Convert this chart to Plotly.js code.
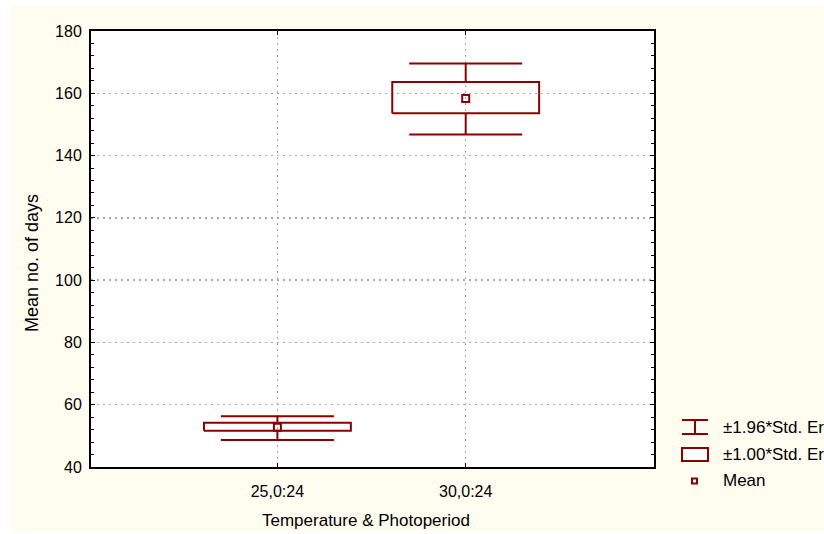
<!DOCTYPE html>
<html>
<head>
<meta charset="utf-8">
<script src="https://cdn.plot.ly/plotly-3.0.1.min.js"></script>
<style>html,body{margin:0;padding:0;background:#fff;overflow:hidden}#chart{width:824px;height:534px}</style>
</head>
<body>
<div id="chart"></div>
<script>
// ---- data ----
const categories = ['25,0:24', '30,0:24'];
const means = [52.8, 158.3];
const seLow = [51.6, 153.6];      // mean - 1.00*SE
const seHigh = [54.2, 163.6];     // mean + 1.00*SE
const ciLow = [48.7, 146.8];      // mean - 1.96*SE
const ciHigh = [56.3, 169.6];     // mean + 1.96*SE
const yTicks = [40, 60, 80, 100, 120, 140, 160, 180];
const legendLabels = ['\u00b11.96*Std. Err.', '\u00b11.00*Std. Err.', 'Mean'];

const RED = '#8B0000';
const FONT = 'Liberation Sans, Arial, sans-serif';
const boxHalf = 0.39, capHalf = 0.30;
const pos = categories.map((c, i) => i);

// whiskers (vertical stems + caps)
const wx = [], wy = [];
pos.forEach((p, i) => {
  wx.push(p, p, null, p, p, null, p - capHalf, p + capHalf, null, p - capHalf, p + capHalf, null);
  wy.push(seHigh[i], ciHigh[i], null, seLow[i], ciLow[i], null, ciHigh[i], ciHigh[i], null, ciLow[i], ciLow[i], null);
});
// boxes
const bx = [], by = [];
pos.forEach((p, i) => {
  bx.push(p - boxHalf, p + boxHalf, p + boxHalf, p - boxHalf, p - boxHalf, null);
  by.push(seLow[i], seLow[i], seHigh[i], seHigh[i], seLow[i], null);
});

const traces = [
  {x: wx, y: wy, mode: 'lines', line: {color: RED, width: 2}, name: legendLabels[0], hoverinfo: 'skip'},
  {x: bx, y: by, mode: 'lines', line: {color: RED, width: 2}, name: legendLabels[1], hoverinfo: 'skip'},
  {x: pos, y: means, mode: 'markers', name: legendLabels[2],
   marker: {symbol: 'square-open', size: 7, color: RED, line: {width: 2, color: RED}}}
];

// pixel helpers for paper coords (plot area 91..654 x, 31..467 y)
const L = 91, R = 654, T = 31, B = 467;
const px = v => (v - L) / (R - L);
const py = v => (B - v) / (B - T);

const shapes = [
  // white strips around the cream panel
  {type: 'rect', xref: 'paper', yref: 'paper', x0: -0.3, x1: 1.5, y0: py(6), y1: 1.3, fillcolor: '#fff', line: {width: 0}, layer: 'below'},
  {type: 'rect', xref: 'paper', yref: 'paper', x0: -0.3, x1: px(11), y0: -0.3, y1: 1.3, fillcolor: '#fff', line: {width: 0}, layer: 'below'},
  {type: 'rect', xref: 'paper', yref: 'paper', x0: -0.3, x1: 1.5, y0: -0.3, y1: py(531), fillcolor: '#fff', line: {width: 0}, layer: 'below'},
  // legend icons
  {type: 'line', xref: 'paper', yref: 'paper', x0: px(682), x1: px(708), y0: py(420), y1: py(420), line: {color: RED, width: 2}},
  {type: 'line', xref: 'paper', yref: 'paper', x0: px(682), x1: px(708), y0: py(434), y1: py(434), line: {color: RED, width: 2}},
  {type: 'line', xref: 'paper', yref: 'paper', x0: px(695), x1: px(695), y0: py(420), y1: py(434), line: {color: RED, width: 2}},
  {type: 'rect', xref: 'paper', yref: 'paper', x0: px(682), x1: px(708), y0: py(448), y1: py(461), line: {color: RED, width: 2}, fillcolor: '#fff'},
  {type: 'rect', xref: 'paper', yref: 'paper', x0: px(692), x1: px(697), y0: py(478.5), y1: py(483.5), line: {color: RED, width: 2}, fillcolor: '#fff'}
];

const annotations = [
  {text: 'Mean no. of days', xref: 'paper', yref: 'paper', x: px(32), y: py(263), textangle: -90,
   showarrow: false, font: {family: FONT, size: 18, color: '#000'}, xanchor: 'center', yanchor: 'middle'},
  {text: 'Temperature & Photoperiod', xref: 'paper', yref: 'paper', x: px(366), y: py(520),
   showarrow: false, font: {family: FONT, size: 17, color: '#000'}, xanchor: 'center', yanchor: 'middle'},
  {text: legendLabels[0], xref: 'paper', yref: 'paper', x: px(721), y: py(427), xanchor: 'left', yanchor: 'middle', showarrow: false, font: {family: FONT, size: 17, color: '#000'}},
  {text: legendLabels[1], xref: 'paper', yref: 'paper', x: px(721), y: py(454), xanchor: 'left', yanchor: 'middle', showarrow: false, font: {family: FONT, size: 17, color: '#000'}},
  {text: legendLabels[2], xref: 'paper', yref: 'paper', x: px(721), y: py(481), xanchor: 'left', yanchor: 'middle', showarrow: false, font: {family: FONT, size: 17, color: '#000'}}
];

const layout = {
  width: 824, height: 534,
  margin: {l: L, r: 824 - R, t: T, b: 534 - B, pad: 0},
  paper_bgcolor: '#FFFCF0',
  plot_bgcolor: '#FFFFFF',
  showlegend: false,
  font: {family: FONT, size: 16, color: '#000'},
  xaxis: {
    range: [-0.99, 2.0], tickvals: pos, ticktext: categories,
    showgrid: true, gridcolor: '#A8A8A8', gridwidth: 1.5, griddash: '1.5px,4.5px',
    zeroline: false, showline: true, linecolor: '#000', linewidth: 2, mirror: 'allticks',
    ticks: 'inside', ticklen: 4, tickcolor: '#000', ticklabelstandoff: 9,
    tickfont: {family: FONT, size: 16, color: '#000'}, fixedrange: true
  },
  yaxis: {
    range: [40, 180], tickvals: yTicks,
    showgrid: true, gridcolor: '#A8A8A8', gridwidth: 1.5, griddash: '1.5px,4.5px',
    zeroline: false, showline: true, linecolor: '#000', linewidth: 2, mirror: 'allticks',
    ticks: 'inside', ticklen: 4, tickcolor: '#000', ticklabelstandoff: 4,
    minor: {dtick: 4, ticks: 'inside', ticklen: 3, tickcolor: '#000', showgrid: false},
    tickfont: {family: FONT, size: 16, color: '#000'}, fixedrange: true
  },
  shapes: shapes,
  annotations: annotations
};

Plotly.newPlot('chart', traces, layout, {staticPlot: true, displayModeBar: false});
</script>
</body>
</html>
